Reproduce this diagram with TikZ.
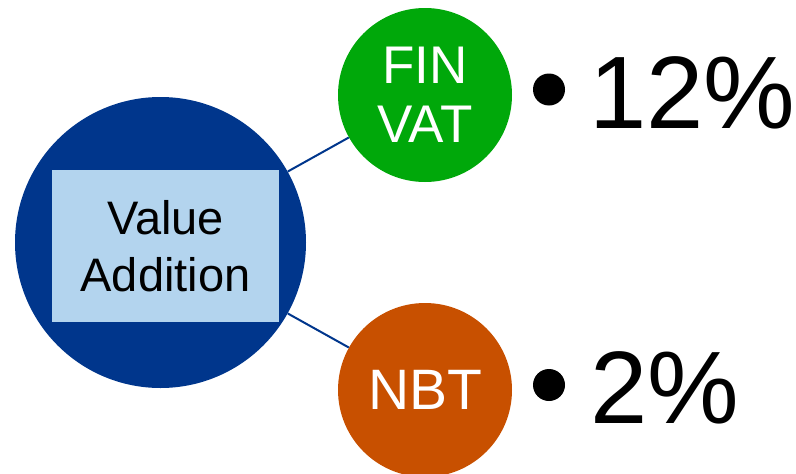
\documentclass[tikz,border=0pt]{standalone}
\usepackage{fontspec}
\setmainfont{Liberation Sans}
\definecolor{bigblue}{RGB}{0,54,140}
\definecolor{boxblue}{RGB}{179,212,238}
\definecolor{fingreen}{RGB}{0,168,10}
\definecolor{nbtorange}{RGB}{200,80,0}
\tikzset{
  hub/.style={circle, fill=bigblue, minimum size=291pt, inner sep=0pt},
  labelbox/.style={rectangle, fill=boxblue, minimum width=227pt, minimum height=152pt, inner sep=0pt, align=center, text=black, font=\fontsize{47}{57}\selectfont},
  taxcircle/.style={circle, minimum size=174pt, inner sep=0pt, align=center, text=white},
  link/.style={draw=bigblue, line width=2pt},
  bulletdot/.style={circle, fill=black, minimum size=32pt, inner sep=0pt},
  rate/.style={anchor=base west, inner sep=0pt, font=\fontsize{103}{110}\selectfont}
}
\begin{document}
\begin{tikzpicture}[x=1pt,y=-1pt]
\useasboundingbox (0,0) rectangle (796,474);
\node[hub] (va) at (160.5,242.5) {};
\node[labelbox] (vabox) at (165.5,246) {Value\\Addition};
\node[taxcircle, fill=fingreen, font=\fontsize{53}{59}\selectfont] (fin) at (425,95) {FIN\\VAT};
\node[taxcircle, fill=nbtorange, font=\fontsize{57}{62}\selectfont] (nbt) at (425,390) {NBT};
\draw[link] (va) -- (fin);
\draw[link] (va) -- (nbt);
\node[bulletdot] (b1) at (549,89.5) {};
\node[bulletdot] (b2) at (549,385) {};
\node[rate] (r1) at (589,128) {12\%};
\node[rate] (r2) at (590,423) {2\%};
\end{tikzpicture}
\end{document}
